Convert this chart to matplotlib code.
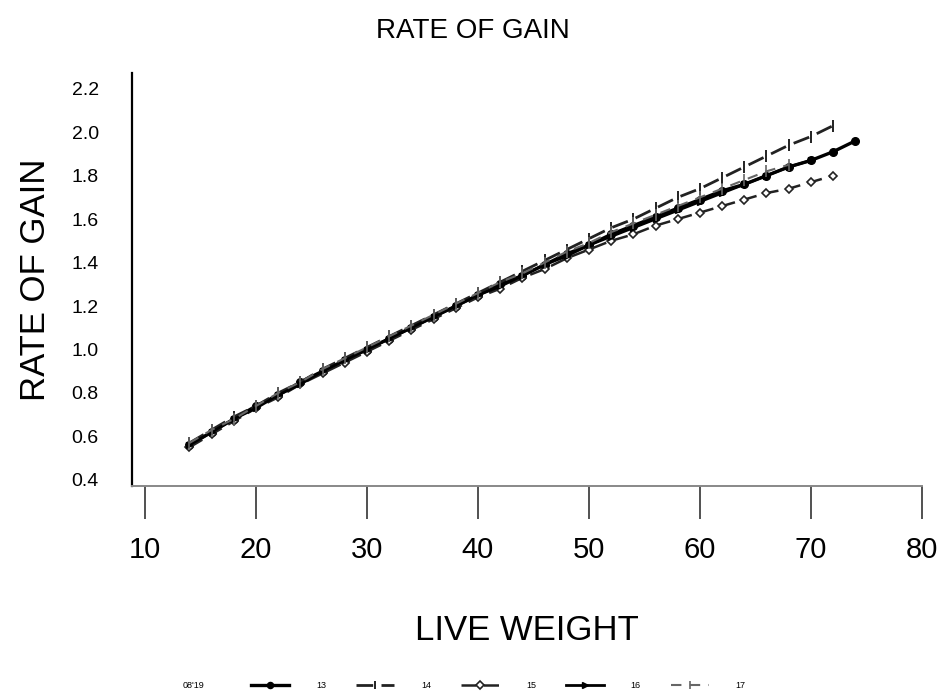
import matplotlib
matplotlib.use("Agg")
import matplotlib.pyplot as plt

plt.rcParams['font.family'] = ['Liberation Sans', 'DejaVu Sans']

title = "RATE OF GAIN"
xlabel = "LIVE WEIGHT"
ylabel = "RATE OF GAIN"
legend_title = "08'19"
series_labels = ["13", "14", "15", "16", "17"]
xticks = [10, 20, 30, 40, 50, 60, 70, 80]
yticks = [0.4, 0.6, 0.8, 1.0, 1.2, 1.4, 1.6, 1.8, 2.0, 2.2]

w13 = [14, 16, 18, 20, 22, 24, 26, 28, 30, 32, 34, 36, 38, 40, 42, 44, 46, 48, 50,
       52, 54, 56, 58, 60, 62, 64, 66, 68, 70, 72, 74]
g13 = [0.56, 0.62, 0.68, 0.74, 0.79, 0.85, 0.90, 0.95, 1.00, 1.05, 1.10, 1.15, 1.20,
       1.25, 1.30, 1.34, 1.39, 1.44, 1.48, 1.53, 1.57, 1.61, 1.65, 1.69, 1.73, 1.76,
       1.80, 1.84, 1.87, 1.91, 1.96]

w14 = [14, 16, 18, 20, 22, 24, 26, 28, 30, 32, 34, 36, 38, 40, 42, 44, 46, 48, 50,
       52, 54, 56, 58, 60, 62, 64, 66, 68, 70, 72]
g14 = [0.57, 0.63, 0.69, 0.74, 0.80, 0.85, 0.91, 0.96, 1.01, 1.06, 1.11, 1.16, 1.21,
       1.26, 1.31, 1.36, 1.41, 1.46, 1.51, 1.56, 1.60, 1.65, 1.70, 1.74, 1.79, 1.84,
       1.89, 1.94, 1.98, 2.03]

w15 = [14, 16, 18, 20, 22, 24, 26, 28, 30, 32, 34, 36, 38, 40, 42, 44, 46, 48, 50,
       52, 54, 56, 58, 60, 62, 64, 66, 68, 70, 72]
g15 = [0.55, 0.61, 0.67, 0.73, 0.78, 0.84, 0.89, 0.94, 0.99, 1.04, 1.09, 1.14, 1.19,
       1.24, 1.28, 1.33, 1.37, 1.42, 1.46, 1.50, 1.53, 1.57, 1.60, 1.63, 1.66, 1.69,
       1.72, 1.74, 1.77, 1.80]

w16 = [14, 16, 18, 20, 22, 24, 26, 28, 30, 32, 34, 36, 38, 40, 42, 44, 46, 48, 50,
       52, 54, 56, 58, 60, 62, 64, 66, 68, 70]
g16 = [0.56, 0.62, 0.68, 0.73, 0.79, 0.84, 0.90, 0.95, 1.00, 1.05, 1.10, 1.15, 1.20,
       1.25, 1.29, 1.34, 1.39, 1.43, 1.48, 1.52, 1.56, 1.60, 1.64, 1.68, 1.72, 1.76,
       1.80, 1.84, 1.87]

w17 = [14, 16, 18, 20, 22, 24, 26, 28, 30, 32, 34, 36, 38, 40, 42, 44, 46, 48, 50,
       52, 54, 56, 58, 60, 62, 64, 66, 68]
g17 = [0.57, 0.63, 0.68, 0.74, 0.80, 0.85, 0.91, 0.96, 1.01, 1.06, 1.11, 1.16, 1.21,
       1.26, 1.31, 1.35, 1.40, 1.45, 1.49, 1.54, 1.58, 1.62, 1.66, 1.70, 1.74, 1.78,
       1.82, 1.85]

fig = plt.figure(figsize=(9.46, 6.98), dpi=100)
ax = fig.add_axes([0.1395, 0.3037, 0.835, 0.591])

styles = [
    dict(color='black', lw=2.4, ls='-', marker='o', ms=5.5, mfc='black'),
    dict(color='#222222', lw=2.0, ls=(0, (6, 3)), marker='|', ms=8, mew=1.4),
    dict(color='#222222', lw=1.8, ls=(0, (6, 3)), marker='D', ms=4.5, mfc='white', mew=1.2),
    dict(color='black', lw=2.0, ls='-', marker='>', ms=5),
    dict(color='#666666', lw=1.5, ls=(0, (5, 4)), marker='|', ms=8, mew=1.2),
]
data = [(w13, g13), (w14, g14), (w15, g15), (w16, g16), (w17, g17)]
handles = []
for (w, g), st, lab in zip(data, styles, series_labels):
    h, = ax.plot(w, g, label=lab, **st)
    handles.append(h)

ax.set_xlim(8.83, 80)
ax.set_ylim(0.372, 2.27)
ax.set_xticks(xticks)
ax.set_yticks(yticks)
ax.set_xticklabels([str(v) for v in xticks], fontsize=21)
ax.set_yticklabels([f"{v:.1f}" for v in yticks], fontsize=14)
ax.tick_params(axis='y', length=0, pad=24)
ax.tick_params(axis='x', length=24, width=1.2, pad=12, direction='out', color='#333333')

for s in ['top', 'right']:
    ax.spines[s].set_visible(False)
ax.spines['left'].set_linewidth(1.6)
ax.spines['left'].set_color('black')
ax.spines['bottom'].set_linewidth(1.4)
ax.spines['bottom'].set_color('#888888')

ax.set_xlabel(xlabel, fontsize=25, labelpad=36)
ax.set_ylabel(ylabel, fontsize=25, labelpad=14)
fig.text(0.5, 0.955, title, ha='center', va='center', fontsize=20)

fig.text(0.205, 0.018, legend_title, ha='center', va='center', fontsize=6.5)
fig.legend(handles=handles, loc='center', bbox_to_anchor=(0.527, 0.018), ncol=5,
           frameon=False, fontsize=6.5, handlelength=4.2, columnspacing=3.3,
           handletextpad=3.0, markerscale=0.8)

fig.savefig("out.png", dpi=100)
